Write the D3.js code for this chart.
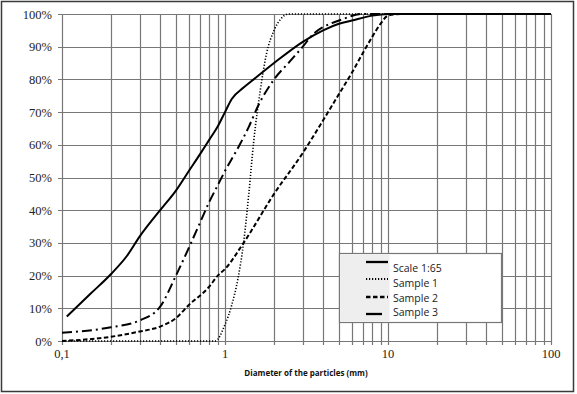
<!DOCTYPE html>
<html><head><meta charset="utf-8">
<script src="https://cdn.jsdelivr.net/npm/d3@7"></script>
<style>body{margin:0;background:#fff}svg{display:block}</style>
</head><body><svg id="c" width="577" height="394"></svg>
<script>
const seriesNames = ["Scale 1:65", "Sample 1", "Sample 2", "Sample 3"];
const scaleD = [0.107, 0.15, 0.2, 0.25, 0.3, 0.4, 0.5, 0.6, 0.7, 0.8, 0.9, 1, 1.1, 1.3, 1.5, 2, 3, 4, 5, 6, 8, 10, 100];
const scaleP = [7.5, 14.5, 20.5, 26, 32, 40, 46, 52, 57, 61.5, 65.5, 70, 74, 77.5, 80, 85, 91.5, 95, 97, 98, 99.5, 100, 100];
const s1D = [0.1, 0.87, 1.0, 1.1, 1.2, 1.3, 1.4, 1.5, 1.65, 1.8, 2.0, 2.2, 2.45, 100];
const s1P = [0, 0, 5, 11, 19, 30, 45, 61, 77, 88, 95, 98.5, 100, 100];
const s2D = [0.1, 0.2, 0.3, 0.4, 0.5, 0.6, 0.8, 0.9, 1, 1.3, 2, 3, 4, 5, 6, 7, 8, 9, 10, 12, 100];
const s2P = [0, 1.3, 2.9, 4.4, 7, 11, 16.6, 19.9, 22, 30, 45, 57.5, 67.5, 75.5, 82, 88, 93, 97, 99.5, 100, 100];
const s3D = [0.1, 0.2, 0.3, 0.4, 0.5, 0.6, 0.7, 0.8, 0.9, 1, 1.2, 1.4, 1.6, 2, 2.5, 3, 3.5, 4, 5, 7, 100];
const s3P = [2.5, 4.2, 6.3, 10.5, 20, 28.5, 36, 42.5, 47.5, 52, 59, 65.5, 72, 80, 85.5, 90, 94, 96, 98, 100, 100];
const yTicks = [0, 10, 20, 30, 40, 50, 60, 70, 80, 90, 100];
const xTickLabels = [[0.1, "0,1"], [1, "1"], [10, "10"], [100, "100"]];
const xTitle = "Diameter of the particles (mm)";

const svg = d3.select("#c");
const L = 62, R = 551, T = 14, B = 341;
const x = d3.scaleLog().domain([0.1, 100]).range([L, R]);
const y = d3.scaleLinear().domain([0, 100]).range([B, T]);

svg.append("rect").attr("x", 1.5).attr("y", 1.5).attr("width", 572).attr("height", 390)
  .attr("fill", "#fff").attr("stroke", "#3a3a3a").attr("stroke-width", 1.5);

const minor = [];
for (let e = -1; e < 2; e++) for (let k = 1; k <= 9; k++) minor.push(k * Math.pow(10, e));
minor.push(100);
const g = svg.append("g");
g.selectAll("line.v").data(minor).join("line")
  .attr("x1", d => Math.round(x(d)) + 0.5).attr("x2", d => Math.round(x(d)) + 0.5)
  .attr("y1", T).attr("y2", B + 4).attr("stroke", "#777").attr("stroke-width", 1.2);
g.selectAll("line.h").data(yTicks).join("line")
  .attr("x1", L - 4).attr("x2", R).attr("y1", d => Math.round(y(d)) + 0.5).attr("y2", d => Math.round(y(d)) + 0.5)
  .attr("stroke", "#777").attr("stroke-width", 1.2);

svg.selectAll("text.yl").data(yTicks).join("text")
  .attr("x", 52).attr("y", d => y(d) + 4.5).attr("text-anchor", "end")
  .attr("font-family", "Liberation Serif").attr("font-size", 12.5).attr("fill", "#222")
  .text(d => d + "%");
svg.selectAll("text.xl").data(xTickLabels).join("text")
  .attr("x", d => x(d[0])).attr("y", 358).attr("text-anchor", "middle")
  .attr("font-family", "Liberation Serif").attr("font-size", 12.5).attr("fill", "#222")
  .text(d => d[1]);
svg.append("text").attr("x", 306).attr("y", 376).attr("text-anchor", "middle")
  .attr("font-family", "Open Sans").attr("font-weight", "bold").attr("font-size", 8).attr("fill", "#111")
  .text(xTitle);

const styles = [
  {dash: null, w: 2},
  {dash: "1.2,1.8", w: 1.6},
  {dash: "4.5,2.5", w: 2},
  {dash: "10,4,2,4", w: 2}
];
const data = [
  scaleD.map((d, i) => [d, scaleP[i]]),
  s1D.map((d, i) => [d, s1P[i]]),
  s2D.map((d, i) => [d, s2P[i]]),
  s3D.map((d, i) => [d, s3P[i]])
];
const line = d3.line().x(d => x(d[0])).y(d => y(d[1])).curve(d3.curveMonotoneX);
data.forEach((ds, i) => {
  svg.append("path").attr("d", line(ds)).attr("fill", "none").attr("stroke", "#000")
    .attr("stroke-width", styles[i].w).attr("stroke-dasharray", styles[i].dash);
});

const lg = svg.append("g");
lg.append("rect").attr("x", 339.5).attr("y", 253.5).attr("width", 162).attr("height", 69)
  .attr("fill", "#fff").attr("stroke", "#777").attr("stroke-width", 1.2);
lg.append("rect").attr("x", 340.5).attr("y", 254.5).attr("width", 49).attr("height", 67).attr("fill", "#eee");
const ly = [262, 279, 297, 314];
const ty = [271.5, 286.5, 301.5, 316];
const lx2 = [388, 388, 388, 382];
seriesNames.forEach((n, i) => {
  lg.append("line").attr("x1", 366).attr("x2", lx2[i]).attr("y1", ly[i]).attr("y2", ly[i])
    .attr("stroke", "#000").attr("stroke-width", styles[i].w + 0.3).attr("stroke-dasharray", i === 3 ? null : styles[i].dash);
  lg.append("text").attr("x", 393).attr("y", ty[i]).attr("font-family", "Open Sans")
    .attr("font-size", 10.5).attr("fill", "#222").text(n);
});
</script></body></html>
